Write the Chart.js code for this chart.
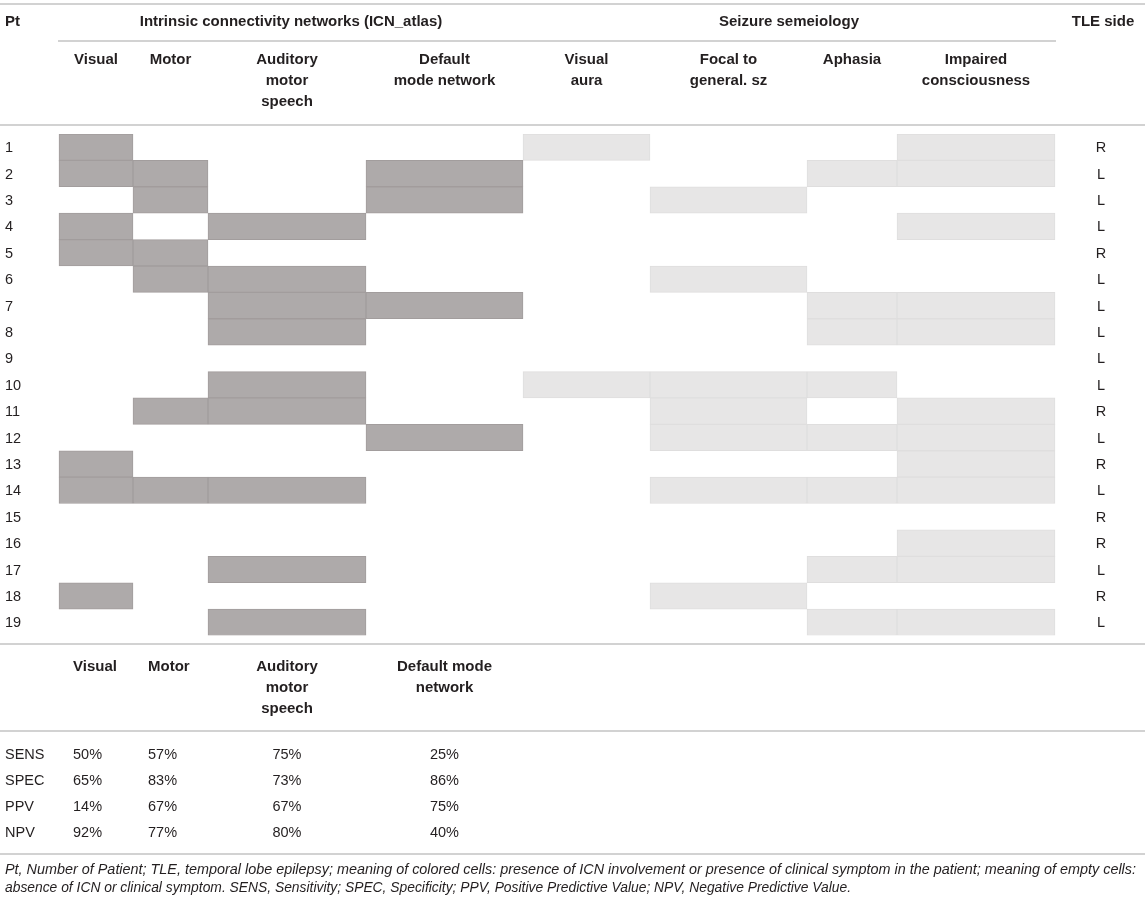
<!DOCTYPE html>
<html>
<head>
<meta charset="utf-8">
<title>ICN and seizure semeiology</title>
<script src="https://cdn.jsdelivr.net/npm/chart.js@4.4.1/dist/chart.umd.min.js"></script>
<style>
  html, body { margin: 0; padding: 0; background: #ffffff; }
  canvas { display: block; }
</style>
</head>
<body>
<canvas id="tabla" width="1145" height="903"></canvas>
<script>
const pacientes = ['1','2','3','4','5','6','7','8','9','10','11','12','13','14','15','16','17','18','19'];
const columnas = ['Visual', 'Motor', 'Auditory motor speech', 'Default mode network',
                  'Visual aura', 'Focal to general. sz', 'Aphasia', 'Impaired consciousness'];
const grupoICN = [true, true, true, true, false, false, false, false];

// 1 = celda coloreada (presencia), 0 = vacia
const visual    = [1,1,0,1,1,0,0,0,0,0,0,0,1,1,0,0,0,1,0];
const motor     = [0,1,1,0,1,1,0,0,0,0,1,0,0,1,0,0,0,0,0];
const auditivo  = [0,0,0,1,0,1,1,1,0,1,1,0,0,1,0,0,1,0,1];
const dmn       = [0,1,1,0,0,0,1,0,0,0,0,1,0,0,0,0,0,0,0];
const auraVis   = [1,0,0,0,0,0,0,0,0,1,0,0,0,0,0,0,0,0,0];
const focalGen  = [0,0,1,0,0,1,0,0,0,1,1,1,0,1,0,0,0,1,0];
const afasia    = [0,1,0,0,0,0,1,1,0,1,0,1,0,1,0,0,1,0,1];
const conciencia= [1,1,0,1,0,0,1,1,0,0,1,1,1,1,0,1,1,0,1];
const presencia = [visual, motor, auditivo, dmn, auraVis, focalGen, afasia, conciencia];

const ladoTLE = ['R','L','L','L','R','L','L','L','L','L','R','L','R','L','R','R','L','R','L'];

const metricas = ['SENS', 'SPEC', 'PPV', 'NPV'];
const sens = [50, 57, 75, 25];
const spec = [65, 83, 73, 86];
const ppv  = [14, 67, 67, 75];
const npv  = [92, 77, 80, 40];
const valoresMetricas = [sens, spec, ppv, npv];

// disposicion (pixeles del lienzo)
const bordesCol = [59, 133, 208, 366, 523, 650, 807, 897, 1055];
const anchoTotal = 1145;
const FUENTE = '"Liberation Sans", Arial, Helvetica, sans-serif';
const TINTA = '#231f20';
const LINEA = '#c3c3c3';

const datasets = columnas.map((nombre, c) => ({
    label: nombre,
    data: presencia[c].map(v => v ? [bordesCol[c], bordesCol[c + 1]] : null),
    backgroundColor: grupoICN[c] ? '#aeaaaa' : '#e7e6e6',
    borderColor: grupoICN[c] ? '#a29d9d' : '#dfdede',
    borderWidth: 1,
    borderSkipped: false,
    barPercentage: 1,
    categoryPercentage: 1,
    grouped: false
}));

function texto(ctx, str, x, y, align, font) {
    ctx.font = font;
    ctx.textAlign = align;
    ctx.fillText(str, x, y);
}

function lineaH(ctx, x1, x2, y) {
    ctx.beginPath();
    ctx.moveTo(x1, y);
    ctx.lineTo(x2, y);
    ctx.stroke();
}

const tablaPlugin = {
    id: 'tablaPlugin',
    afterDraw(chart) {
        const ctx = chart.ctx;
        const ys = chart.scales.y;
        const bold = 'bold 15px ' + FUENTE;
        const normal = '14.5px ' + FUENTE;
        ctx.save();
        ctx.fillStyle = TINTA;
        ctx.textBaseline = 'middle';

        // lineas horizontales
        ctx.strokeStyle = LINEA;
        ctx.lineWidth = 1.6;
        lineaH(ctx, 0, anchoTotal, 4);
        lineaH(ctx, 58, 1056, 41);
        lineaH(ctx, 0, anchoTotal, 125);
        lineaH(ctx, 0, anchoTotal, 644);
        lineaH(ctx, 0, anchoTotal, 731);
        lineaH(ctx, 0, anchoTotal, 854);

        // encabezado superior
        texto(ctx, 'Pt', 5, 22, 'left', bold);
        texto(ctx, 'Intrinsic connectivity networks (ICN_atlas)', (bordesCol[0] + bordesCol[4]) / 2, 22, 'center', bold);
        texto(ctx, 'Seizure semeiology', (bordesCol[4] + bordesCol[8]) / 2, 22, 'center', bold);
        texto(ctx, 'TLE side', 1103, 22, 'center', bold);

        const cabeceras = [['Visual'], ['Motor'], ['Auditory', 'motor', 'speech'], ['Default', 'mode network'],
                           ['Visual', 'aura'], ['Focal to', 'general. sz'], ['Aphasia'], ['Impaired', 'consciousness']];
        cabeceras.forEach((lineas, c) => {
            const cx = (bordesCol[c] + bordesCol[c + 1]) / 2;
            lineas.forEach((l, k) => texto(ctx, l, cx, 60 + k * 21, 'center', bold));
        });

        // numero de paciente y lado TLE
        pacientes.forEach((p, i) => {
            const y = ys.getPixelForValue(i) + 1;
            texto(ctx, p, 5, y, 'left', normal);
            texto(ctx, ladoTLE[i], 1101, y, 'center', normal);
        });

        // tabla de metricas
        const cabInf = [['Visual'], ['Motor'], ['Auditory', 'motor', 'speech'], ['Default mode', 'network']];
        const alinear = ['left', 'left', 'center', 'center'];
        const xCol = [73, 148, (bordesCol[2] + bordesCol[3]) / 2, (bordesCol[3] + bordesCol[4]) / 2];
        cabInf.forEach((lineas, c) => {
            lineas.forEach((l, k) => texto(ctx, l, xCol[c], 667 + k * 21, alinear[c], bold));
        });
        metricas.forEach((m, r) => {
            const y = 755 + r * 26;
            texto(ctx, m, 5, y, 'left', normal);
            valoresMetricas[r].forEach((v, c) => texto(ctx, v + '%', xCol[c], y, alinear[c], normal));
        });

        // nota al pie
        ctx.font = 'italic 14.4px ' + FUENTE;
        ctx.textAlign = 'left';
        ctx.fillText('Pt, Number of Patient; TLE, temporal lobe epilepsy; meaning of colored cells: presence of ICN involvement or presence of clinical symptom in the patient; meaning of empty cells:', 5, 870, 1134);
        ctx.fillText('absence of ICN or clinical symptom. SENS, Sensitivity; SPEC, Specificity; PPV, Positive Predictive Value; NPV, Negative Predictive Value.', 5, 888, 846);
        ctx.restore();
    }
};

new Chart(document.getElementById('tabla'), {
    type: 'bar',
    data: { labels: pacientes, datasets: datasets },
    options: {
        indexAxis: 'y',
        responsive: false,
        animation: false,
        devicePixelRatio: 1,
        layout: { padding: { top: 134, bottom: 267.5, left: 0, right: 0 } },
        scales: {
            x: { type: 'linear', min: 0, max: anchoTotal, display: false },
            y: { type: 'category', display: false, offset: true }
        },
        plugins: {
            legend: { display: false },
            tooltip: { enabled: false }
        }
    },
    plugins: [tablaPlugin]
});
</script>
</body>
</html>
